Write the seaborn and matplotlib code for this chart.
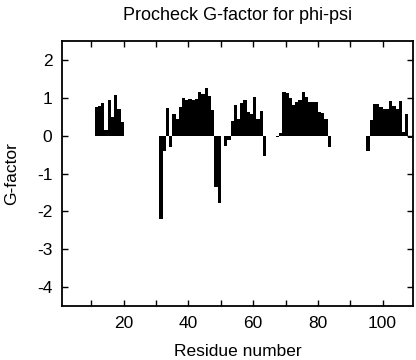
import matplotlib
matplotlib.use("Agg")
import matplotlib.pyplot as plt
import pandas as pd
import seaborn as sns

# residue numbers and their Procheck G-factor (phi-psi)
residues = [11, 12, 13, 14, 15, 16, 17, 18, 19,
            31, 32, 33, 34, 35, 36, 37, 38, 39, 40, 41, 42, 43, 44, 45, 46, 47,
            48, 49, 51, 52, 53, 54, 55, 56, 57, 58, 59, 60, 61, 62, 63,
            67, 68, 69, 70, 71, 72, 73, 74, 75, 76, 77, 78, 79, 80, 81, 82, 83,
            95, 96, 97, 98, 99, 100, 101, 102, 103, 104, 105, 106, 107, 108]
gfactor = [0.75, 0.78, 0.86, 0.15, 0.93, 0.50, 1.08, 0.70, 0.35,
           -2.20, -0.41, 0.73, -0.29, 0.57, 0.44, 0.75, 1.00, 0.94, 0.97, 0.95, 0.97, 1.16, 1.11, 1.25, 1.04, 0.69,
           -1.36, -1.78, -0.26, -0.12, 0.38, 0.80, 0.44, 0.86, 0.93, 0.62, 0.58, 1.03, 0.43, 0.64, -0.53,
           -0.03, 0.06, 1.15, 1.13, 1.00, 0.80, 0.90, 0.93, 1.15, 1.02, 0.90, 0.88, 0.88, 0.63, 0.60, 0.45, -0.30,
           -0.40, 0.41, 0.83, 0.84, 0.76, 0.71, 0.71, 0.91, 0.79, 0.70, 0.91, 0.09, 0.56, -0.06]

x_major = [20, 40, 60, 80, 100]
x_minor = [10, 30, 50, 70, 90]
y_ticks = [2, 1, 0, -1, -2, -3, -4]

sns.set_theme()
sns.set_style("ticks")
plt.rcParams["font.family"] = ["Liberation Sans", "DejaVu Sans"]
plt.rcParams["axes.unicode_minus"] = False
plt.rcParams.update({"text.color": "black", "axes.labelcolor": "black",
                     "xtick.color": "black", "ytick.color": "black"})

df = pd.DataFrame({"residue": residues, "g": gfactor})

fig, ax = plt.subplots(figsize=(4.16, 3.6), dpi=100)
fig.subplots_adjust(left=0.149, right=0.9935, top=0.886, bottom=0.15)

sns.histplot(data=df, x="residue", weights="g", binwidth=1, binrange=(1, 109),
             ax=ax, color="black", alpha=1, linewidth=0, stat="count")

ax.set_xlim(0.9, 109.5)
ax.set_ylim(-4.5, 2.5)
ax.set_xticks(x_major)
ax.set_xticks(x_minor, minor=True)
ax.set_yticks(y_ticks)
ax.tick_params(which="both", direction="in", top=True, right=True,
               length=4, width=1, labelsize=12.5)
ax.tick_params(axis="x", which="both", pad=7)
ax.tick_params(axis="y", pad=7)
for s in ax.spines.values():
    s.set_linewidth(1.3)
    s.set_color("black")

ax.set_title("Procheck G-factor for phi-psi", fontsize=13, pad=15.5)
ax.set_xlabel("Residue number", fontsize=12.5, labelpad=9.5)
ax.set_ylabel("G-factor", fontsize=12.5, labelpad=12.5)

fig.savefig("out.png", dpi=100)
